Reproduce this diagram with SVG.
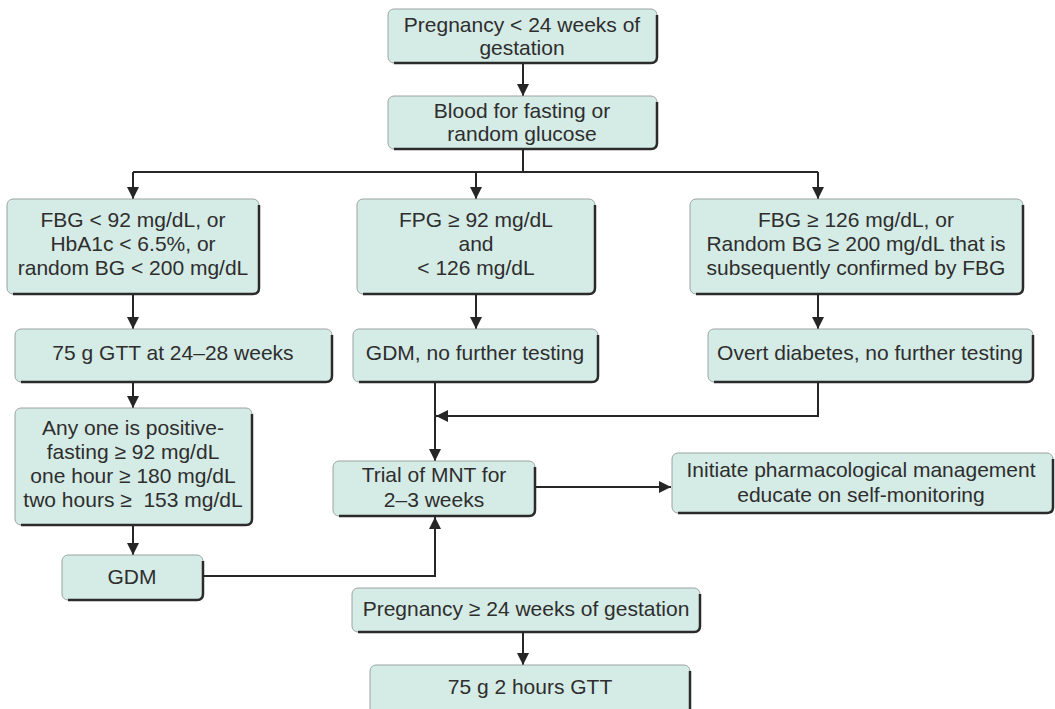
<svg xmlns="http://www.w3.org/2000/svg" width="1055" height="709" viewBox="0 0 1055 709">
<style>
.box{fill:#d5ebe5;stroke:#9aa5a2;stroke-width:1}
.edge{fill:none;stroke:#2b2b2b;stroke-width:2.5}
.t{font-family:"Liberation Sans",Arial,sans-serif;font-size:21px;fill:#2e2e2e;text-anchor:middle}
.c{fill:none;stroke:#262626;stroke-width:2}
</style>
<defs>
<marker id="ah" viewBox="0 0 12 12" refX="12" refY="6" markerWidth="12" markerHeight="12" orient="auto" markerUnits="userSpaceOnUse">
<path d="M0,0 L12,6 L0,12 z" fill="#262626"/>
</marker>
</defs>
<rect width="1055" height="709" fill="#ffffff"/>

<g id="connectors">
<path class="c" d="M523,63 V96" marker-end="url(#ah)"/>
<path class="c" d="M523,149 V172"/>
<path class="c" d="M133,172 H818"/>
<path class="c" d="M133,172 V199" marker-end="url(#ah)"/>
<path class="c" d="M476,172 V199" marker-end="url(#ah)"/>
<path class="c" d="M818,172 V199" marker-end="url(#ah)"/>
<path class="c" d="M133,294 V329" marker-end="url(#ah)"/>
<path class="c" d="M476,294 V329" marker-end="url(#ah)"/>
<path class="c" d="M818,294 V329" marker-end="url(#ah)"/>
<path class="c" d="M133,382 V408" marker-end="url(#ah)"/>
<path class="c" d="M133,525 V555" marker-end="url(#ah)"/>
<path class="c" d="M435,382 V461" marker-end="url(#ah)"/>
<path class="c" d="M818,382 V416 H436" marker-end="url(#ah)"/>
<path class="c" d="M203,576 H435 V517" marker-end="url(#ah)"/>
<path class="c" d="M535,487 H671" marker-end="url(#ah)"/>
<path class="c" d="M523,632 V665" marker-end="url(#ah)"/>
</g>

<g id="n1">
<rect class="box" x="388" y="9" width="269" height="54" rx="6"/>
<path class="edge" d="M657,15 V57 Q657,63 651,63 H394"/>
<text class="t" x="522" y="32">Pregnancy &lt; 24 weeks of</text>
<text class="t" x="522" y="55">gestation</text>
</g>

<g id="n2">
<rect class="box" x="388" y="96" width="269" height="53" rx="6"/>
<path class="edge" d="M657,102 V143 Q657,149 651,149 H394"/>
<text class="t" x="522" y="118">Blood for fasting or</text>
<text class="t" x="522" y="141">random glucose</text>
</g>

<g id="n3">
<rect class="box" x="7" y="199" width="252" height="95" rx="6"/>
<path class="edge" d="M259,205 V288 Q259,294 253,294 H13"/>
<text class="t" x="133" y="227">FBG &lt; 92 mg/dL, or</text>
<text class="t" x="133" y="251">HbA1c &lt; 6.5%, or</text>
<text class="t" x="133" y="275">random BG &lt; 200 mg/dL</text>
</g>

<g id="n4">
<rect class="box" x="357" y="199" width="238" height="95" rx="6"/>
<path class="edge" d="M595,205 V288 Q595,294 589,294 H363"/>
<text class="t" x="476" y="227">FPG ≥ 92 mg/dL</text>
<text class="t" x="476" y="251">and</text>
<text class="t" x="476" y="275">&lt; 126 mg/dL</text>
</g>

<g id="n5">
<rect class="box" x="690" y="199" width="333" height="95" rx="6"/>
<path class="edge" d="M1023,205 V288 Q1023,294 1017,294 H696"/>
<text class="t" x="856" y="227">FBG ≥ 126 mg/dL, or</text>
<text class="t" x="856" y="251">Random BG ≥ 200 mg/dL that is</text>
<text class="t" x="856" y="275">subsequently confirmed by FBG</text>
</g>

<g id="n6">
<rect class="box" x="15" y="329" width="317" height="53" rx="6"/>
<path class="edge" d="M332,335 V376 Q332,382 326,382 H21"/>
<text class="t" x="173" y="360">75 g GTT at 24–28 weeks</text>
</g>

<g id="n7">
<rect class="box" x="353" y="329" width="245" height="53" rx="6"/>
<path class="edge" d="M598,335 V376 Q598,382 592,382 H359"/>
<text class="t" x="475" y="360">GDM, no further testing</text>
</g>

<g id="n8">
<rect class="box" x="708" y="329" width="325" height="53" rx="6"/>
<path class="edge" d="M1033,335 V376 Q1033,382 1027,382 H714"/>
<text class="t" x="870" y="360">Overt diabetes, no further testing</text>
</g>

<g id="n9">
<rect class="box" x="15" y="408" width="237" height="117" rx="6"/>
<path class="edge" d="M252,414 V519 Q252,525 246,525 H21"/>
<text class="t" x="133" y="435">Any one is positive-</text>
<text class="t" x="133" y="459">fasting ≥ 92 mg/dL</text>
<text class="t" x="133" y="483">one hour ≥ 180 mg/dL</text>
<text class="t" x="133" y="507">two hours ≥&#160; 153 mg/dL</text>
</g>

<g id="n10">
<rect class="box" x="62" y="555" width="141" height="45" rx="6"/>
<path class="edge" d="M203,561 V594 Q203,600 197,600 H68"/>
<text class="t" x="132" y="584">GDM</text>
</g>

<g id="n11">
<rect class="box" x="333" y="461" width="202" height="55" rx="6"/>
<path class="edge" d="M535,467 V510 Q535,516 529,516 H339"/>
<text class="t" x="434" y="482">Trial of MNT for</text>
<text class="t" x="434" y="507">2–3 weeks</text>
</g>

<g id="n12">
<rect class="box" x="672" y="453" width="381" height="60" rx="6"/>
<path class="edge" d="M1053,459 V507 Q1053,513 1047,513 H678"/>
<text class="t" x="861" y="477">Initiate pharmacological management</text>
<text class="t" x="861" y="502">educate on self-monitoring</text>
</g>

<g id="n13">
<rect class="box" x="352" y="588" width="348" height="44" rx="6"/>
<path class="edge" d="M700,594 V626 Q700,632 694,632 H358"/>
<text class="t" x="526" y="616">Pregnancy ≥ 24 weeks of gestation</text>
</g>

<g id="n14">
<rect class="box" x="370" y="665" width="320" height="50" rx="6"/>
<path class="edge" d="M690,671 V715"/>
<text class="t" x="530" y="694">75 g 2 hours GTT</text>
</g>
</svg>
